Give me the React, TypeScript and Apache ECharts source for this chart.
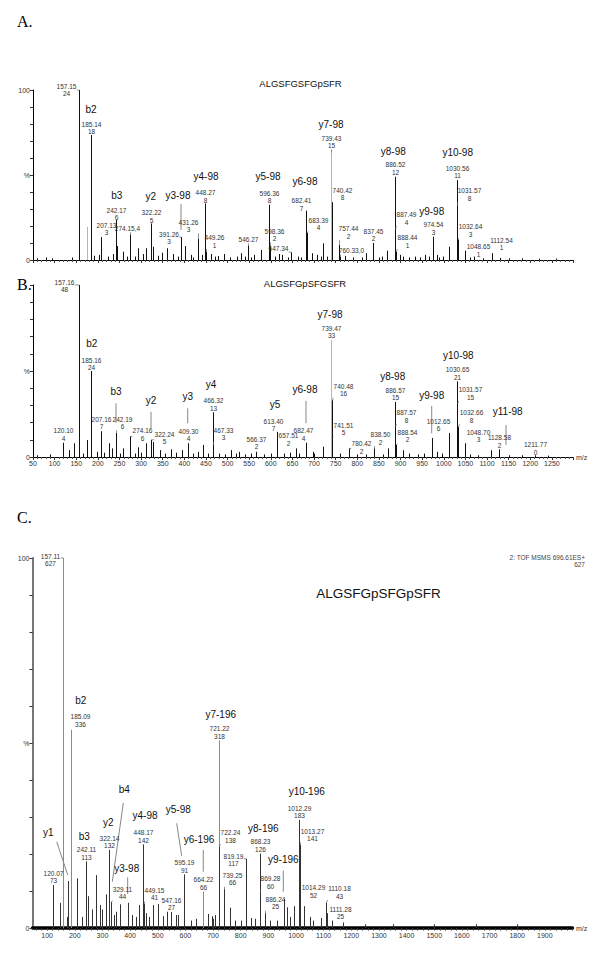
import React, { useEffect, useRef } from "react";
import * as echarts from "echarts";

// ---------------- Panel A : ALGSFGSFGpSFR ----------------
const aTitle = "ALGSFGSFGpSFR";
// [m/z, relative %, count label]
const aLabeled: [number, number, number | null][] = [
  [157.15, 100, 24], [185.14, 73.5, 18], [207.13, 13.5, 3], [242.17, 23.5, 6],
  [274.15, 15, 4], [322.22, 21.5, 5], [391.26, 13.5, 3], [431.26, 12.5, 3],
  [448.27, 33.3, 8], [449.26, 5, 1], [546.27, 8.5, null], [596.36, 32.5, 8],
  [598.36, 8.3, 2], [647.34, 4.5, null], [682.41, 29, 7], [683.39, 16, 4],
  [739.43, 63, 15], [740.42, 34, 8], [757.44, 9, 2], [760.33, 2, 0],
  [837.45, 10, 2], [886.52, 49, 12], [887.49, 18, 4], [888.44, 5, 1],
  [974.54, 13.7, 3], [1030.56, 47, 11], [1031.57, 32, 8], [1032.64, 12, 3],
  [1048.65, 5.5, 1], [1112.54, 4, 1],
];
const aInline = [274.15, 760.33];
const aPeaks: [number, number][] = [
  [175.6, 19.6], [202.6, 3], [224, 2], [235.7, 3.5], [245, 8.2], [258.8, 4.9], [292, 6.9],
  [303.7, 3.5], [311.3, 6.9], [328.2, 7.8], [347.6, 4.3], [359.2, 6.9], [374.5, 3.5],
  [401.5, 8.2], [414.7, 3], [441.5, 3], [461, 3.5], [478.5, 2.4], [491.7, 3.5], [521, 2],
  [530.3, 4], [561.8, 3], [577.3, 5.9], [619.6, 3.5], [626.5, 3], [662.2, 2], [694.5, 4],
  [706, 3], [721.4, 9.8], [771.6, 2.4], [819.4, 4], [856.4, 2], [869.4, 5.5], [898.7, 3],
  [905, 2], [933.4, 2], [956.6, 3], [983.6, 3], [997.5, 2], [1012.8, 7.8], [1070.6, 2],
  [1130, 1.2], [60, 1], [80, 1.5], [95, 1], [140, 1.5], [190, 2.5], [268, 2], [285, 2],
  [340, 2.5], [386, 2], [420, 1.5], [470, 2], [505, 1.5], [540, 2], [555, 1.5], [610, 2],
  [640, 1.5], [670, 1.5], [715, 2], [730, 2], [790, 1.5], [810, 1.5], [850, 1.5],
  [920, 1.5], [945, 1.5], [965, 2], [990, 1.5], [1060, 1.5], [1090, 1], [1150, 1],
  [1180, 1], [1220, 0.8], [1260, 0.8],
];
const aLight = [739.43, 175.6];
// [ion name, m/z, % level]
const aIons: [string, number, number][] = [
  ["b2", 184.1, 88.8], ["b3", 243.6, 37.8], ["y2", 322.2, 37.1], ["y3-98", 385.3, 37.8],
  ["y4-98", 450.1, 49.0], ["y5-98", 593.5, 49.0], ["y6-98", 679, 46.1], ["y7-98", 739.2, 79.8],
  ["y8-98", 883.3, 64.1], ["y9-98", 972.1, 28.4], ["y10-98", 1032.2, 63.1],
];
const aMarks: [number, number, number, number][] = [[392.3, 32.9, 392.3, 17.6]];

// ---------------- Panel B : ALGSFGpSFGSFR ----------------
const bTitle = "ALGSFGpSFGSFR";
const bLabeled: [number, number, number | null][] = [
  [157.16, 100, 48], [185.16, 50, 24], [120.10, 8.3, 4], [207.16, 15, 7], [242.19, 14, 6],
  [274.16, 12, 6], [322.24, 10, 5], [409.30, 8, 4], [466.32, 26, 13], [467.33, 7, 3],
  [566.37, 3, 2], [613.40, 14.6, 7], [657.51, 5, 2], [682.47, 8.3, 4], [739.47, 68, 33],
  [740.48, 33, 16], [741.51, 11, 5], [780.42, 5, 2], [838.50, 5, 2], [886.57, 32, 15],
  [887.57, 17.6, 8], [888.54, 7, 2], [1012.65, 14, 6], [1030.65, 44, 21], [1031.57, 31, 15],
  [1032.66, 17.6, 8], [1048.70, 8, 3], [1128.58, 4.5, 2], [1211.77, 1, 0],
];
const bInline: number[] = [];
const bPeaks: [number, number][] = [
  [133.3, 4], [144.8, 8], [175.6, 9.9], [197.3, 3], [226.5, 8], [232, 5], [258.8, 5],
  [292, 5.6], [310.6, 8], [328.2, 8.7], [343.7, 4], [368.5, 4.5], [393.9, 4], [432.3, 3],
  [443.8, 7], [507.2, 4], [527, 3], [698.2, 3], [721.4, 6], [870.3, 5], [905, 3.9],
  [972.8, 11], [983.6, 3], [1109.2, 3.9], [60, 1], [90, 1.5], [165, 2], [215, 2.5],
  [252, 2], [285, 2], [300, 2.5], [355, 2], [380, 2.5], [420, 2], [455, 2], [480, 2],
  [495, 1.5], [520, 2], [540, 1.5], [555, 2], [585, 1.5], [600, 2], [630, 2], [645, 2.5],
  [665, 2], [700, 2], [760, 2], [800, 1.5], [820, 1.5], [860, 1.5], [920, 2], [940, 1.5],
  [955, 2], [995, 2], [1060, 1.5], [1080, 1], [1150, 1], [1180, 1], [1240, 0.8],
];
const bLight = [739.47];
const bIons: [string, number, number][] = [
  ["b2", 185.8, 66.1], ["b3", 242, 38], ["y2", 322.9, 33.1], ["y3", 407.8, 35.1],
  ["y4", 461.7, 42.3], ["y5", 609.7, 30.6], ["y6-98", 679, 39.4], ["y7-98", 736.9, 82.6],
  ["y8-98", 881.9, 46.7], ["y9-98", 972.1, 36], ["y10-98", 1033.6, 59.3], ["y11-98", 1147.8, 26.7],
];
const bMarks: [number, number, number, number][] = [
  [242, 31.2, 242, 19.8], [322.9, 26.3, 322.9, 16.7], [407.8, 28.3, 407.8, 19.6],
  [681.3, 32.6, 681.3, 19.6], [972.1, 29.7, 972.1, 13.8], [1143.9, 18.6, 1143.9, 7],
];

// ---------------- Panel C : ALGSFGpSFGpSFR ----------------
const cTitle = "ALGSFGpSFGpSFR";
const cLabeled: [number, number, number | null][] = [
  [157.11, 100, 627], [185.09, 53.6, 336], [120.07, 11.6, 73], [242.11, 18, 113],
  [322.14, 21.1, 132], [329.11, 7, 44], [448.17, 22.6, 142], [449.15, 6.5, 41],
  [547.16, 4.3, 27], [595.19, 14.5, 91], [664.22, 9.8, 66], [721.22, 50.7, 318],
  [722.24, 22, 138], [739.25, 10.5, 66], [819.19, 18.7, 117], [868.23, 20.1, 126],
  [869.28, 9.6, 60], [886.24, 4, 25], [1012.29, 29.2, 183], [1013.27, 22.5, 141],
  [1014.29, 8.3, 52], [1110.18, 6.9, 43], [1111.28, 4, 25],
];
const cInline: number[] = [];
const cPeaks: [number, number][] = [
  [146.5, 6.8], [176.5, 12.7], [209, 13.4], [248.8, 8.6], [276.7, 14.3], [291, 6.2],
  [312.8, 9.1], [363.5, 6.4], [391.3, 6.8], [433.3, 6.2], [484, 6.2], [500, 6.5],
  [532.4, 4.4], [565, 3.5], [682.8, 3.8], [695, 3.2], [707, 3.5], [761.3, 5.5],
  [837.3, 2.7], [956.6, 7.8], [966.4, 5.6], [993.9, 5.9], [1030, 5.9], [1050.6, 3],
  [1090.4, 2.7], [170, 3], [226, 3], [262, 5], [300, 5], [342, 3.5], [350, 4.4],
  [407, 3.5], [420, 3], [459, 4], [470, 3], [520, 3.2], [575, 3.5], [620, 2], [640, 2.5],
  [700, 2.5], [780, 2], [800, 2], [850, 2.5], [905, 2], [930, 2], [980, 3], [1060, 2],
  [1130, 2], [1170, 1.5], [1250, 1], [1350, 1], [1500, 1], [1650, 1], [1800, 1],
];
const cLight = [157.11, 185.09, 721.22, 664.22];
const cIons: [string, number, number][] = [
  ["b2", 221.3, 61.4], ["y1", 104.1, 25.9], ["b3", 234.4, 24.7], ["y2", 321.2, 28.5],
  ["b4", 379, 37.3], ["y3-98", 387.7, 16.1], ["y4-98", 453.9, 30.5], ["y5-98", 574.3, 31.9],
  ["y6-196", 649.2, 24], ["y7-196", 727.7, 57.8], ["y8-196", 881.7, 26.9],
  ["y9-196", 954.1, 18.4], ["y10-196", 1038.7, 37],
];
const cMarks: [number, number, number, number][] = [
  [134.7, 23.3, 174.5, 14.3], [375.4, 33.8, 335.6, 12.5], [391.3, 13.7, 391.3, 9.2],
  [568.5, 28.3, 586.6, 19.5], [664.7, 21.1, 664.7, 15.2], [954.1, 15.5, 954.1, 9.8],
];

// Tick labels
const bTickLabels = [50, 100, 150, 200, 250, 300, 350, 400, 450, 500, 550, 600, 650, 700, 750, 800, 850, 900, 950, 1000, 1050, 1100, 1150, 1200, 1250];
const cTickLabels = [100, 200, 300, 400, 500, 600, 700, 800, 900, 1000, 1100, 1200, 1300, 1400, 1500, 1600, 1700, 1800, 1900];

// ---------------- layout (pixel nudges of peak labels, not data) ----------------
const aNudge: [number, number][] = [
  [-13, 0], [0, -7], [5, -8], [0, -6], [-3, -6], [0, -7], [-12.5, 1], [-10, -13], [0, -7],
  [8, -10], [0, -6], [0, -8], [4, -11], [-13, -4], [-5, -6], [11, -9], [0, -11], [10, -8],
  [9, -12], [11, -6], [0, -8], [0, -8], [11, -11], [11, -10], [0, -8], [0, -8], [12, -11],
  [12, -9], [13, 0], [9, -9],
];
const bNudge: [number, number][] = [
  [-15, 1], [0, -7], [0, -8], [0, -8], [6, -10], [12, -2], [13, -2], [0, -8], [0, -8],
  [10, -11], [0, -9], [-4, -7], [-8, -9], [-3, -8], [0, -8], [11, -10], [11, -9], [12, -1],
  [6, -10], [0, -8], [11, -10], [11, -9], [-11, -8], [0, -8], [13, -10], [13, -10], [13, -7],
  [0, -8], [0, -7],
];
const cNudge: [number, number][] = [
  [-13, 2], [9, -9], [0, -8], [0, -8], [0, -8], [11, -9], [0, -8], [10, -10], [0, -8],
  [0, -8], [0, -8], [0, -8], [11, -10], [8, -10], [-13, 1], [0, -8], [10, -10], [10, -10],
  [0, -8], [12, -10], [13, -6], [13, -10], [13, 0],
];

const SANS = '"Liberation Sans", Arial, sans-serif';
const SERIF = '"Liberation Serif", "Times New Roman", serif';

const clamp = (v: number, lo: number, hi: number) => Math.max(lo, Math.min(hi, v));

function panelSeries(
  idx: number,
  labeled: [number, number, number | null][],
  peaks: [number, number][],
  light: number[],
  inline: number[],
  nudges: [number, number][],
  ions: [string, number, number][],
  marks: [number, number, number, number][],
  peakColor: string,
  lightColor: string
) {
  const allPeaks: [number, number][] = [
    ...peaks,
    ...labeled.map((d) => [d[0], d[1]] as [number, number]),
  ];
  const peakSeries = {
    type: "custom",
    coordinateSystem: "cartesian2d",
    xAxisIndex: idx,
    yAxisIndex: idx,
    silent: true,
    z: 2,
    data: allPeaks,
    encode: { x: 0, y: 1 },
    renderItem: (params: any, api: any) => {
      const mz = api.value(0);
      const p = api.value(1);
      const a = api.coord([mz, 0]);
      const b = api.coord([mz, p]);
      const x = Math.round(a[0]) + 0.5;
      const isLight = light.some((l) => Math.abs(l - mz) < 0.01);
      return {
        type: "line",
        shape: { x1: x, y1: a[1], x2: x, y2: b[1] },
        style: { stroke: isLight ? lightColor : peakColor, lineWidth: 1 },
      };
    },
  };
  const labelSeries = {
    type: "custom",
    coordinateSystem: "cartesian2d",
    xAxisIndex: idx,
    yAxisIndex: idx,
    silent: true,
    z: 5,
    data: labeled.map((d) => [d[0], d[1]]),
    encode: { x: 0, y: 1 },
    renderItem: (params: any, api: any) => {
      const i = params.dataIndex;
      const [mz, p, c] = labeled[i];
      const top = api.coord([mz, p]);
      top[0] = Math.round(top[0]) + 0.5;
      const [dx, dy] = nudges[i] || [0, -8];
      const cx = top[0] + dx;
      const cy = top[1] + dy;
      const m = mz.toFixed(2);
      let txt = m;
      if (c !== null) txt = inline.some((v) => Math.abs(v - mz) < 0.001) ? `${m},${c}` : `${m}\n${c}`;
      const lines = txt.split("\n");
      const w = Math.max(...lines.map((l) => l.length)) * 3.4;
      const h = lines.length * 7.5;
      const l = cx - w / 2, r = cx + w / 2, t = cy - h / 2, bt = cy + h / 2;
      const qx = clamp(top[0], l, r);
      const qy = clamp(top[1], t, bt);
      const children: any[] = [
        {
          type: "text",
          style: {
            text: txt,
            x: cx,
            y: cy,
            align: "center",
            verticalAlign: "middle",
            fontSize: 6.5,
            fontFamily: SANS,
            lineHeight: 7.5,
            fill: "#333",
          },
        },
      ];
      if (Math.hypot(qx - top[0], qy - top[1]) > 1.5) {
        children.push({
          type: "line",
          shape: { x1: top[0], y1: top[1], x2: qx, y2: qy },
          style: { stroke: "#666", lineWidth: 0.7 },
        });
      }
      return { type: "group", children };
    },
  };
  const ionSeries = {
    type: "custom",
    coordinateSystem: "cartesian2d",
    xAxisIndex: idx,
    yAxisIndex: idx,
    silent: true,
    z: 6,
    data: ions.map((d) => [d[1], d[2]]),
    encode: { x: 0, y: 1 },
    renderItem: (params: any, api: any) => {
      const d = ions[params.dataIndex];
      const pt = api.coord([d[1], d[2]]);
      return {
        type: "text",
        style: {
          text: d[0],
          x: pt[0],
          y: pt[1],
          align: "center",
          verticalAlign: "middle",
          fontSize: 10,
          fontFamily: SANS,
          fill: "#111",
        },
      };
    },
  };
  const markSeries = {
    type: "custom",
    coordinateSystem: "cartesian2d",
    xAxisIndex: idx,
    yAxisIndex: idx,
    silent: true,
    z: 4,
    data: marks.map((d) => [d[0], d[1], d[2], d[3]]),
    encode: { x: [0, 2], y: [1, 3] },
    renderItem: (params: any, api: any) => {
      const d = marks[params.dataIndex];
      const p1 = api.coord([d[0], d[1]]);
      const p2 = api.coord([d[2], d[3]]);
      return {
        type: "line",
        shape: { x1: p1[0], y1: p1[1], x2: p2[0], y2: p2[1] },
        style: { stroke: "#888", lineWidth: 1 },
      };
    },
  };
  return [peakSeries, markSeries, labelSeries, ionSeries];
}

function yAxisFor(idx: number, show100: boolean, lineColor: string, lineWidth: number) {
  return {
    type: "value",
    gridIndex: idx,
    min: 0,
    max: 100,
    interval: 10,
    splitLine: { show: false },
    axisLine: { show: true, lineStyle: { color: lineColor, width: lineWidth } },
    axisTick: { show: true, length: 3, lineStyle: { color: "#333" } },
    axisLabel: {
      fontSize: 7,
      fontFamily: SANS,
      color: "#333",
      margin: 3,
      formatter: (v: number) => (v === 0 ? "0" : v === 50 ? "%" : v === 100 && show100 ? "100" : ""),
    },
  };
}

export default function App() {
  const ref = useRef<HTMLDivElement>(null);
  useEffect(() => {
    document.body.style.margin = "0";
    if (!ref.current) return;
    const chart = echarts.init(ref.current, undefined, { renderer: "svg" });
    const cTicks: number[] = [];
    for (let v = 60; v <= 2000; v += 20) cTicks.push(v);
    const option: any = {
      animation: false,
      backgroundColor: "#fff",
      grid: [
        { left: 33, width: 540.5, top: 90, height: 170 },
        { left: 33, width: 540.5, top: 285, height: 172 },
        { left: 32.5, width: 540, top: 558, height: 370 },
      ],
      xAxis: [
        {
          type: "value", gridIndex: 0, min: 50, max: 1300, interval: 50,
          splitLine: { show: false },
          axisLine: { lineStyle: { color: "#000", width: 1 } },
          axisTick: { show: true, length: 3, lineStyle: { color: "#333" } },
          minorTick: { show: true, splitNumber: 5, length: 2, lineStyle: { color: "#555" } },
          axisLabel: { show: false },
        },
        {
          type: "value", gridIndex: 1, min: 50, max: 1300, interval: 50,
          splitLine: { show: false },
          axisLine: { lineStyle: { color: "#000", width: 1 } },
          axisTick: { show: true, length: 3, lineStyle: { color: "#333" } },
          minorTick: { show: true, splitNumber: 5, length: 2, lineStyle: { color: "#555" } },
          axisLabel: {
            fontSize: 7, fontFamily: SANS, color: "#333", margin: 3,
            showMaxLabel: false,
            formatter: (v: number) => (bTickLabels.includes(v) ? String(v) : ""),
          },
        },
        {
          type: "value", gridIndex: 2, min: 47, max: 2000,
          splitLine: { show: false },
          axisLine: { lineStyle: { color: "#000", width: 3.5 } },
          axisTick: { show: true, length: 2.5, customValues: cTicks, lineStyle: { color: "#333" } },
          axisLabel: {
            fontSize: 7, fontFamily: SANS, color: "#333", margin: 4,
            customValues: cTickLabels,
            formatter: (v: number) => String(v),
          },
        },
      ],
      yAxis: [
        yAxisFor(0, true, "#000", 1),
        yAxisFor(1, false, "#000", 1),
        yAxisFor(2, true, "#777", 2),
      ],
      series: [
        ...panelSeries(0, aLabeled, aPeaks, aLight, aInline, aNudge, aIons, aMarks, "#111", "#b5b5b5"),
        ...panelSeries(1, bLabeled, bPeaks, bLight, bInline, bNudge, bIons, bMarks, "#111", "#b5b5b5"),
        ...panelSeries(2, cLabeled, cPeaks, cLight, cInline, cNudge, cIons, cMarks, "#333", "#8a8a8a"),
      ],
      graphic: [
        { type: "text", x: 17, y: 21, style: { text: "A.", fontSize: 16, fontFamily: SERIF, fill: "#000", verticalAlign: "middle" } },
        { type: "text", x: 17, y: 284, style: { text: "B.", fontSize: 16, fontFamily: SERIF, fill: "#000", verticalAlign: "middle" } },
        { type: "text", x: 17, y: 517, style: { text: "C.", fontSize: 16, fontFamily: SERIF, fill: "#000", verticalAlign: "middle" } },
        { type: "text", x: 300.5, y: 83, style: { text: aTitle, fontSize: 9.5, fontFamily: SANS, fill: "#111", align: "center", verticalAlign: "middle" } },
        { type: "text", x: 305, y: 283, style: { text: bTitle, fontSize: 9.5, fontFamily: SANS, fill: "#111", align: "center", verticalAlign: "middle" } },
        { type: "text", x: 378.5, y: 593, style: { text: cTitle, fontSize: 13.5, fontFamily: SANS, fill: "#111", align: "center", verticalAlign: "middle" } },
        { type: "text", x: 585, y: 557, style: { text: "2: TOF MSMS 696.61ES+", fontSize: 6.5, fontFamily: SANS, fill: "#444", align: "right", verticalAlign: "middle" } },
        { type: "text", x: 585, y: 564, style: { text: "627", fontSize: 6.5, fontFamily: SANS, fill: "#444", align: "right", verticalAlign: "middle" } },
        { type: "text", x: 576, y: 457, style: { text: "m/z", fontSize: 7, fontFamily: SANS, fill: "#333", verticalAlign: "middle" } },
        { type: "text", x: 576, y: 928, style: { text: "m/z", fontSize: 7, fontFamily: SANS, fill: "#333", verticalAlign: "middle" } },
      ],
    };
    chart.setOption(option);
    return () => chart.dispose();
  }, []);
  return <div ref={ref} style={{ width: 600, height: 957 }} />;
}
